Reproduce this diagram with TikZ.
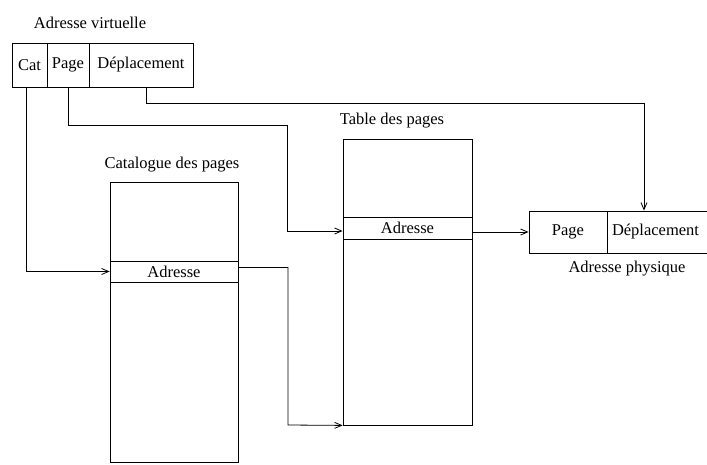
\documentclass[tikz,border=0pt]{standalone}
\usepackage{fontspec}
\setmainfont{Liberation Serif}
\usetikzlibrary{arrows.meta,calc}
\begin{document}
\begin{tikzpicture}[x=1pt,y=-1pt,
  txt/.style={font=\fontsize{16.5}{18}\selectfont, inner sep=0pt},
  cell/.style={draw, line width=0.8pt, inner sep=0pt, font=\fontsize{16.5}{18}\selectfont},
  conn/.style={line width=0.8pt, -{Straight Barb[length=7pt,width=6pt]}},
  plain/.style={line width=0.8pt}]
\useasboundingbox (0,0) rectangle (707,464);
% virtual address
\node[txt] (vlab) at (90,23) {Adresse virtuelle};
\node[cell, minimum width=35pt, minimum height=44pt] (cat) at (29.5,65) {Cat};
\node[cell, minimum width=42pt, minimum height=44pt] (page) at (68,65) {Page};
\node[cell, minimum width=104pt, minimum height=44pt] (depl) at (141,65) {Déplacement};
% catalogue
\node[txt] (clab) at (172,165) {Catalogue des pages};
\node[cell, minimum width=128pt, minimum height=79pt] (cattop) at (174,221.5) {};
\node[cell, minimum width=128pt, minimum height=21pt] (catadr) at (174,271.5) {Adresse};
\node[cell, minimum width=128pt, minimum height=180pt] (catbot) at (174,372) {};
% table
\node[txt] (tlab) at (392,121) {Table des pages};
\node[cell, minimum width=129pt, minimum height=78pt] (tabtop) at (407.5,178) {};
\node[cell, minimum width=129pt, minimum height=22pt] (tabadr) at (407.5,228) {Adresse};
\node[cell, minimum width=129pt, minimum height=186pt] (tabbot) at (407.5,332) {};
% physical address
\node[cell, minimum width=78pt, minimum height=42pt] (ppage) at (568,232) {Page};
\node[cell, minimum width=103pt, minimum height=42pt, text width=93pt, align=left] (pdepl) at (658.5,232) {Déplacement};
\node[txt] (plab) at (627,269) {Adresse physique};
% connectors
\coordinate (c1) at ($(cat.south)+(-3.5,0)$);
\draw[conn] (c1) |- (catadr.west);
\draw[conn] (page.south) -- ++(0,38) -| (287,231) -- (tabadr.west |- 0,231);
\coordinate (d1) at ($(depl.south)+(5,0)$);
\coordinate (d2) at ($(pdepl.north)+(-14.5,0)$);
\draw[conn] (d1) -- ++(0,16) -| (d2);
\draw[conn] ($(catadr.east)+(0,-4)$) -| (288,425) -- (tabbot.south west);
\draw[conn] (tabadr.east |- ppage.west) -- (ppage.west);
\end{tikzpicture}
\end{document}
